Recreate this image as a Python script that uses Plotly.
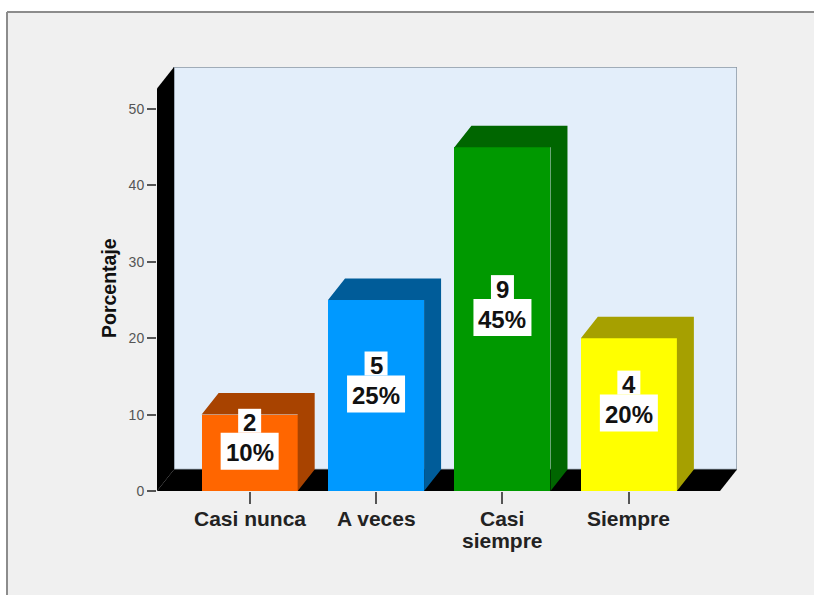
import plotly.graph_objects as go

# ---- data ----
categories = ["Casi nunca", "A veces", "Casi siempre", "Siempre"]
tick_labels = [["Casi nunca"], ["A veces"], ["Casi", "siempre"], ["Siempre"]]
counts = [2, 5, 9, 4]
percents = [10, 25, 45, 20]
y_ticks = [0, 10, 20, 30, 40, 50]
y_title = "Porcentaje"

# ---- styling ----
front_colors = ["#ff6600", "#0099ff", "#009900", "#ffff00"]
dark_colors = ["#a84300", "#005c99", "#006600", "#a6a000"]
FONT = "Liberation Sans, Arial, sans-serif"

W, H = 814, 595
ML, MR, MT, MB = 157, 77, 67, 104
PW, PH = W - ML - MR, H - MT - MB

XMIN, XMAX = -0.733, -0.733 + PW / 126.4
YMAX = 55.5
DX = 17 / 126.4            # depth offset along x (data units)
DY = 21.5 * YMAX / PH      # depth offset along y (data units)
HALF = 0.38                # half bar width

pos = list(range(len(categories)))


def xp(px):
    return (px - ML) / PW


def yp(py):
    return (H - MB - py) / PH


fig = go.Figure()

# top and side faces of each bar
for i, (c, v) in enumerate(zip(pos, percents)):
    xs = [c - HALF, c + HALF, c + HALF + DX, c - HALF + DX, c - HALF, None,
          c + HALF, c + HALF, c + HALF + DX, c + HALF + DX, c + HALF]
    ys = [v, v, v + DY, v + DY, v, None,
          0, v, v + DY, DY, 0]
    fig.add_trace(go.Scatter(x=xs, y=ys, mode="lines", fill="toself",
                             fillcolor=dark_colors[i], line=dict(width=0),
                             hoverinfo="skip", showlegend=False))

# front faces
fig.add_trace(go.Bar(x=pos, y=percents, width=2 * HALF,
                     marker=dict(color=front_colors, line=dict(width=0)),
                     customdata=counts, showlegend=False,
                     hovertemplate="%{customdata} (%{y}%)<extra></extra>"))

shapes = []
# outer frame: grey panel with a border on its top and left edges
shapes.append(dict(type="rect", xref="paper", yref="paper",
                   x0=xp(7), x1=xp(840), y0=yp(12), y1=yp(640),
                   fillcolor="#f0f0f0", line=dict(width=0), layer="below"))
shapes.append(dict(type="line", xref="paper", yref="paper",
                   x0=xp(7), x1=xp(840), y0=yp(12), y1=yp(12),
                   line=dict(color="#8c8c8c", width=2), layer="below"))
shapes.append(dict(type="line", xref="paper", yref="paper",
                   x0=xp(7), x1=xp(7), y0=yp(12), y1=yp(640),
                   line=dict(color="#8c8c8c", width=2), layer="below"))
# back wall
shapes.append(dict(type="rect", xref="x", yref="y",
                   x0=XMIN + DX, x1=XMAX, y0=DY, y1=YMAX,
                   fillcolor="#e3eefa", line=dict(color="#8a96a3", width=1.5),
                   layer="below"))
# left wall
shapes.append(dict(type="path", xref="x", yref="y",
                   path=f"M {XMIN},0 L {XMIN},{YMAX - DY} L {XMIN + DX},{YMAX} "
                        f"L {XMIN + DX},{DY} Z",
                   fillcolor="#000000", line=dict(width=0), layer="below"))
# floor
shapes.append(dict(type="path", xref="x", yref="y",
                   path=f"M {XMIN},0 L {XMAX - DX},0 L {XMAX},{DY} "
                        f"L {XMIN + DX},{DY} Z",
                   fillcolor="#000000", line=dict(width=0), layer="below"))

annotations = []
for c, v, n in zip(pos, percents, counts):
    # white label boxes
    shapes.append(dict(type="rect", xref="x", yref="y",
                       xsizemode="pixel", ysizemode="pixel",
                       xanchor=c, yanchor=v / 2,
                       x0=-29, x1=29, y0=-17, y1=20,
                       fillcolor="white", line=dict(width=0), layer="above"))
    shapes.append(dict(type="rect", xref="x", yref="y",
                       xsizemode="pixel", ysizemode="pixel",
                       xanchor=c, yanchor=v / 2,
                       x0=-11.5, x1=11.5, y0=20, y1=44,
                       fillcolor="white", line=dict(width=0), layer="above"))
    annotations.append(dict(x=c, y=v / 2, xref="x", yref="y", text=f"<b>{v}%</b>",
                            showarrow=False, yshift=0,
                            font=dict(family=FONT, size=24, color="#111111")))
    annotations.append(dict(x=c, y=v / 2, xref="x", yref="y", text=f"<b>{n}</b>",
                            showarrow=False, yshift=30,
                            font=dict(family=FONT, size=24, color="#111111")))

# category labels under the axis, one annotation per line
for c, lines in zip(pos, tick_labels):
    for k, line in enumerate(lines):
        annotations.append(dict(x=c, y=yp(518 + 22 * k), xref="x", yref="paper",
                                text=f"<b>{line}</b>", showarrow=False,
                                yanchor="middle",
                                font=dict(family=FONT, size=21, color="#222222")))

# vertical axis title
annotations.append(dict(x=xp(109), y=yp(288), xref="paper", yref="paper",
                        text=f"<b>{y_title}</b>", textangle=-90, showarrow=False,
                        xanchor="center", yanchor="middle",
                        font=dict(family=FONT, size=19.5, color="#111111")))

fig.update_layout(
    width=W, height=H,
    margin=dict(l=ML, r=MR, t=MT, b=MB, pad=0),
    paper_bgcolor="white",
    plot_bgcolor="rgba(0,0,0,0)",
    shapes=shapes,
    annotations=annotations,
    bargap=0,
    xaxis=dict(range=[XMIN, XMAX], tickvals=pos, showticklabels=False,
               ticks="outside", ticklen=12, tickwidth=1.5, tickcolor="#555555",
               showgrid=False, zeroline=False, showline=False),
    yaxis=dict(range=[0, YMAX], tickvals=y_ticks,
               ticks="outside", ticklen=9, tickwidth=1.5, tickcolor="#555555",
               showgrid=False, zeroline=False, showline=False,
               tickfont=dict(family=FONT, size=14, color="#555555")),
)

fig.write_html("out.html")
